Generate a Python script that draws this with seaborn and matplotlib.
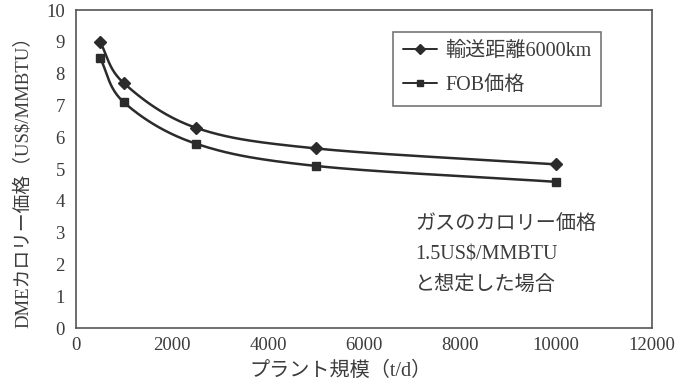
import matplotlib
matplotlib.use('Agg')
import matplotlib.pyplot as plt
import numpy as np
import pandas as pd
import seaborn as sns

# values
plant_size = [500, 1000, 2500, 5000, 10000]
cost_6000km = [9.0, 7.7, 6.3, 5.65, 5.15]
cost_fob = [8.5, 7.1, 5.8, 5.1, 4.6]
series_names = ['輸送距離6000km', 'FOB価格']
note_lines = ['ガスのカロリー価格', '1.5US$/MMBTU', 'と想定した場合']


def smooth(x, y, n=40):
    # Catmull-Rom curve through the points (like Excel's smoothed line)
    x = np.asarray(x, float)
    y = np.asarray(y, float)
    px = np.r_[2 * x[0] - x[1], x, 2 * x[-1] - x[-2]]
    py = np.r_[2 * y[0] - y[1], y, 2 * y[-1] - y[-2]]
    xs, ys = [], []
    t = np.linspace(0, 1, n)
    for i in range(1, len(px) - 2):
        for p, out in ((px, xs), (py, ys)):
            p0, p1, p2, p3 = p[i - 1], p[i], p[i + 1], p[i + 2]
            out.extend(0.5 * (2 * p1 + (-p0 + p2) * t
                              + (2 * p0 - 5 * p1 + 4 * p2 - p3) * t ** 2
                              + (-p0 + 3 * p1 - 3 * p2 + p3) * t ** 3))
    return xs, ys


sns.set_style('white')
# serif for latin letters/digits, CJK falls back to Noto
mixed = ['Liberation Serif', 'Noto Sans CJK JP']
plt.rcParams['font.family'] = mixed
ink = '#2b2b2b'
txt = '#3c3c3c'

fig = plt.figure(figsize=(6.9, 3.87), dpi=100)
ax = fig.add_axes([0.110, 0.152, 0.835, 0.822])

for vals, name, mk, ms in ((cost_6000km, series_names[0], 'D', 6),
                          (cost_fob, series_names[1], 's', 6)):
    sx, sy = smooth(plant_size, vals)
    sns.lineplot(x=sx, y=sy, ax=ax, color=ink, lw=1.8, sort=False,
                 estimator=None)
    ax.plot(plant_size, vals, ls='none', marker=mk, ms=ms, color=ink)
    ax.plot([], [], color=ink, lw=1.4, marker=mk, ms=5, label=name)

ax.set_xlim(0, 12000)
ax.set_ylim(0, 10)
ax.set_xticks(range(0, 12001, 2000))
ax.set_yticks(range(0, 11))
ax.tick_params(direction='in', length=4, width=1, color=ink, labelcolor=txt,
               labelsize=13.5)
ax.tick_params(axis='y', pad=8)
ax.tick_params(axis='x', pad=6)
for sp in ax.spines.values():
    sp.set_color('#555555')
    sp.set_linewidth(1.2)

ax.set_xlabel('プラント規模（t/d）', fontsize=14.5, color=txt)
ax.xaxis.set_label_coords(0.46, -0.105)
ax.set_ylabel('DMEカロリー価格（US$/MMBTU）', fontsize=13.5, color=txt)
ax.yaxis.set_label_coords(-0.075, 0.475)

leg = ax.legend(loc='upper left', bbox_to_anchor=(0.550, 0.931),
                borderaxespad=0, fontsize=14.5, frameon=True, fancybox=False,
                handlelength=1.7, borderpad=0.5, labelspacing=0.75,
                handletextpad=0.4)
leg.get_frame().set_edgecolor('#555555')
leg.get_frame().set_linewidth(1.2)
for t in leg.get_texts():
    t.set_color(txt)

for i, line in enumerate(note_lines):
    ax.text(0.589, 0.324 - i * 0.0945, line, transform=ax.transAxes,
            fontsize=14.5, color=txt, va='center')

fig.savefig('out.png', dpi=100, facecolor='white')
